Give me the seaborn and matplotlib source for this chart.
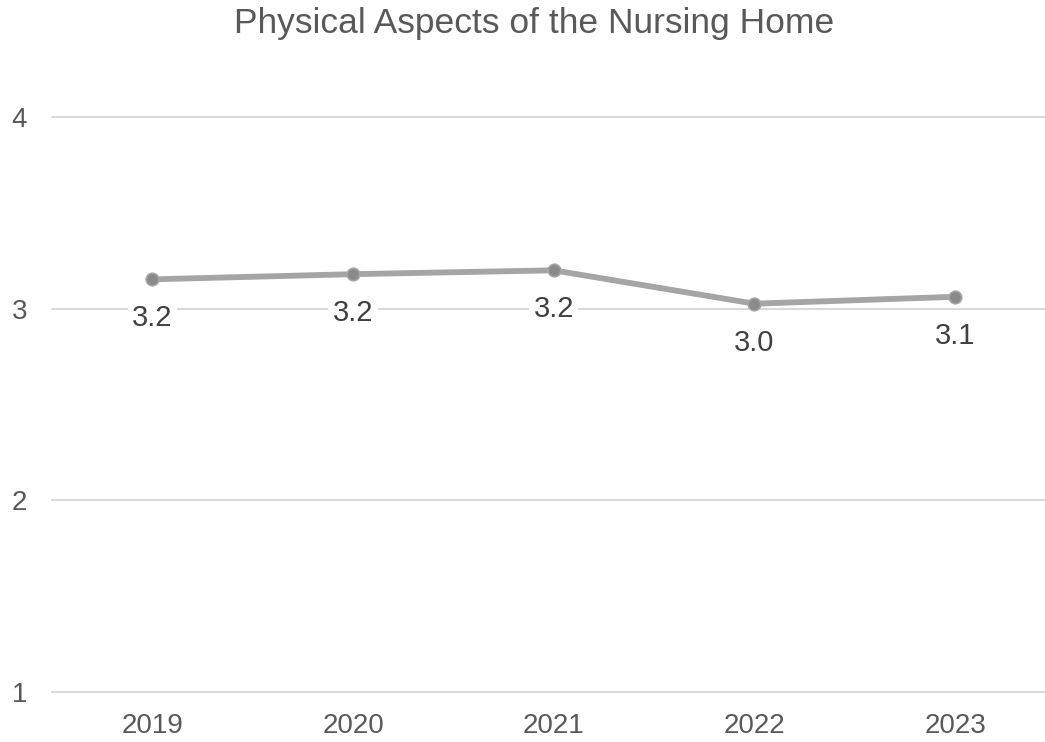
import matplotlib
matplotlib.use("Agg")
import matplotlib.pyplot as plt
import seaborn as sns
import pandas as pd

years = ["2019", "2020", "2021", "2022", "2023"]
scores = [3.153, 3.18, 3.20, 3.026, 3.062]
title = "Physical Aspects of the Nursing Home"
yticks = [1, 2, 3, 4]

sns.set_theme(style="white")
plt.rcParams['font.family'] = ['Liberation Sans', 'DejaVu Sans']

df = pd.DataFrame({"year": years, "score": scores})

W, H = 1045, 742
fig = plt.figure(figsize=(W / 100, H / 100), dpi=100)
ax = fig.add_axes([52 / W, 50 / H, (W - 52) / W, (692 - 117) / H])

sns.lineplot(data=df, x="year", y="score", ax=ax, color="#a5a5a5", linewidth=4.2,
             marker="o", markersize=9, markerfacecolor="#8a8a8a",
             markeredgecolor="#a5a5a5", markeredgewidth=1.2, zorder=3)

ax.set_ylim(1, 4)
ax.set_xlim(-0.5, 4.448)
ax.set_yticks(yticks)
ax.set_yticklabels([str(t) for t in yticks])
ax.yaxis.grid(True, color="#d9d9d9", linewidth=1.5, zorder=0)
ax.xaxis.grid(False)
for sp in ax.spines.values():
    sp.set_visible(False)
ax.tick_params(axis="both", length=0, labelsize=20, colors="#595959")
ax.tick_params(axis="y", pad=18)
ax.tick_params(axis="x", pad=15)
ax.set_xlabel("")
ax.set_ylabel("")
for gl in ax.get_ygridlines():
    gl.set_clip_on(False)

for i, v in enumerate(scores):
    ax.annotate(f"{v:.1f}", xy=(i, v), xytext=(0, -39), textcoords="offset pixels",
                ha="center", va="center", fontsize=21, color="#404040",
                bbox=dict(boxstyle="square,pad=0.15", fc="white", ec="none"), zorder=4)

fig.text(534 / W, 1 - 23 / H, title, ha="center", va="center", fontsize=25.5, color="#595959")

fig.savefig("out.png", dpi=100)
